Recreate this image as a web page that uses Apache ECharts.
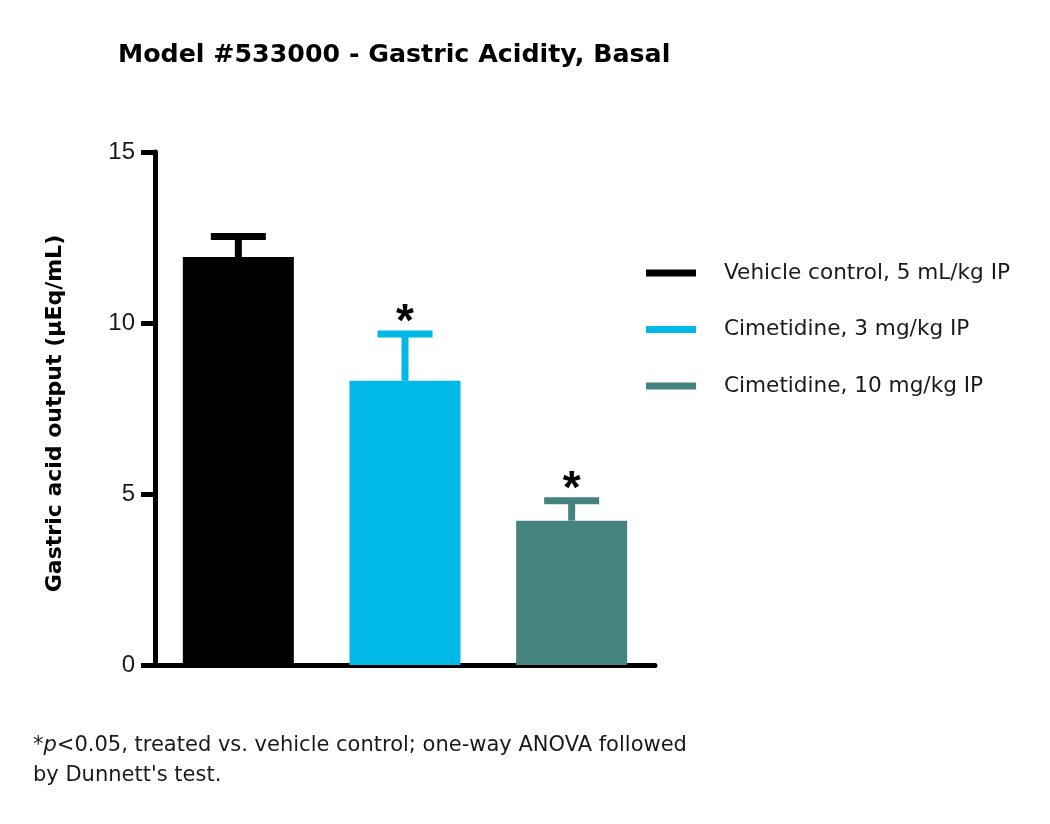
<!DOCTYPE html>
<html>
<head>
<meta charset="utf-8">
<script src="https://cdn.jsdelivr.net/npm/echarts@6/dist/echarts.min.js"></script>
<style>
html,body{margin:0;padding:0;background:#fff;}
#chart{width:1050px;height:824px;}
</style>
</head>
<body>
<div id="chart"></div>
<script>
// ---- data ----
var categories = ['Vehicle control, 5 mL/kg IP', 'Cimetidine, 3 mg/kg IP', 'Cimetidine, 10 mg/kg IP'];
var means = [11.93, 8.31, 4.22];
var errHigh = [12.53, 9.68, 4.80];
var significant = [false, true, true];
var colors = ['#000000', '#00B9E6', '#45837F'];
var yTicks = [0, 5, 10, 15];

var chart = echarts.init(document.getElementById('chart'));

var barSeries = categories.map(function (name, i) {
  return {
    name: name,
    type: 'bar',
    stack: 'groups',
    barWidth: 111,
    itemStyle: { color: colors[i] },
    data: categories.map(function (c, j) { return j === i ? means[i] : '-'; }),
    silent: true
  };
});

var errData = categories.map(function (c, i) { return [i, errHigh[i], means[i]]; });

var errSeries = {
  type: 'custom',
  name: 'err',
  silent: true,
  z: 5,
  data: errData,
  renderItem: function (params, api) {
    var idx = api.value(0);
    var top = api.coord([idx, api.value(1)]);
    var base = api.coord([idx, api.value(2)]);
    var col = colors[idx];
    var children = [
      { type: 'rect', shape: { x: top[0] - 3.5, y: top[1], width: 7, height: base[1] - top[1] }, style: { fill: col } },
      { type: 'rect', shape: { x: top[0] - 27.5, y: top[1] - 3.5, width: 55, height: 7 }, style: { fill: col } }
    ];
    if (significant[idx]) {
      children.push({
        type: 'text',
        x: top[0], y: top[1] - 11,
        style: { text: '*', fill: '#000', font: 'bold 46px "Liberation Sans", Arial, sans-serif', align: 'center', verticalAlign: 'middle' }
      });
    }
    return { type: 'group', children: children };
  }
};

chart.setOption({
  animation: false,
  backgroundColor: '#fff',
  title: {
    text: 'Model #533000 - Gastric Acidity, Basal',
    left: 113, top: 38,
    textStyle: { fontFamily: 'DejaVu Sans', fontWeight: 'bold', fontSize: 25.3, color: '#000' }
  },
  legend: {
    orient: 'vertical',
    left: 641, top: 257,
    itemWidth: 50, itemHeight: 7, itemGap: 34.5,
    icon: 'rect',
    selectedMode: false,
    data: categories,
    textStyle: { fontFamily: 'DejaVu Sans', fontSize: 21.6, color: '#1a1a1a', lineHeight: 22, padding: [0, 0, 0, 23] }
  },
  grid: { left: 155, right: 395, top: 152, bottom: 159, containLabel: false },
  xAxis: {
    type: 'category',
    data: categories,
    boundaryGap: true,
    axisLine: { show: true, lineStyle: { color: '#000', width: 5 } },
    axisTick: { show: false },
    axisLabel: { show: false },
    splitLine: { show: false }
  },
  yAxis: {
    type: 'value',
    min: yTicks[0], max: yTicks[yTicks.length - 1], interval: 5,
    name: 'Gastric acid output (μEq/mL)',
    nameLocation: 'middle',
    nameGap: 89,
    nameTextStyle: { fontFamily: 'DejaVu Sans', fontWeight: 'bold', fontSize: 22, color: '#000', padding: [0, 10, 0, 0] },
    axisLine: { show: true, lineStyle: { color: '#000', width: 5 } },
    axisTick: { show: true, length: 14, lineStyle: { color: '#000', width: 5 } },
    axisLabel: { fontFamily: 'Liberation Sans', fontSize: 24, color: '#1a1a1a', margin: 20 },
    splitLine: { show: false }
  },
  graphic: [{
    type: 'text',
    left: 33, top: 731,
    style: {
      text: '*{i|p}<0.05, treated vs. vehicle control; one-way ANOVA followed\nby Dunnett\'s test.',
      font: '21px "DejaVu Sans"',
      fill: '#1a1a1a',
      lineHeight: 30,
      rich: { i: { fontStyle: 'italic', fontFamily: 'DejaVu Sans', fontSize: 21, fill: '#1a1a1a', lineHeight: 30 } }
    }
  }],
  series: barSeries.concat([errSeries])
});
</script>
</body>
</html>
